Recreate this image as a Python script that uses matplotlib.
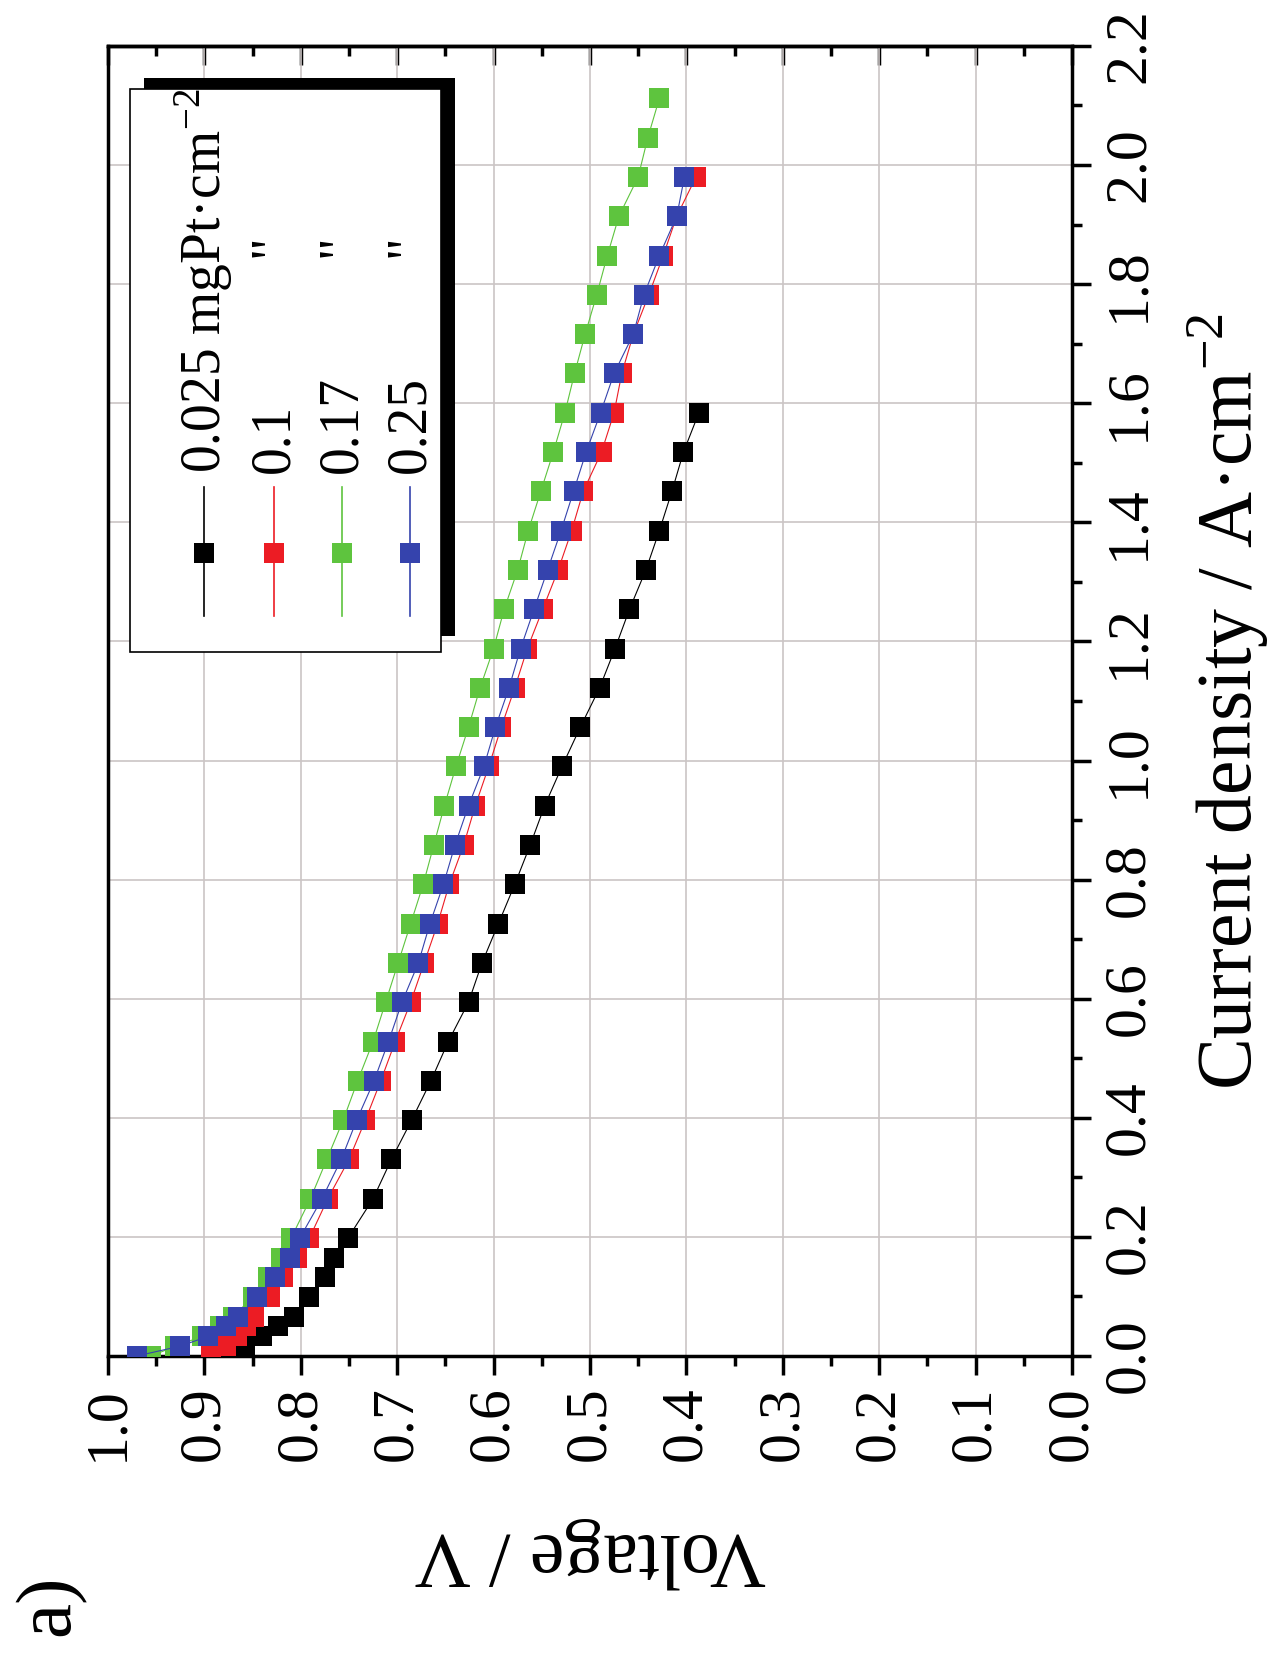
import numpy as np
import matplotlib
matplotlib.use("Agg")
import matplotlib.pyplot as plt
from matplotlib.ticker import MultipleLocator, FormatStrFormatter
from matplotlib.patches import Rectangle

plt.rcParams['font.family'] = ['Liberation Serif', 'DejaVu Serif']
plt.rcParams['mathtext.fontset'] = 'stix'

# current density steps (A/cm2), shared by all loadings
current = [0.0, 0.0165, 0.033, 0.0495, 0.066, 0.099, 0.132, 0.165, 0.198,
           0.264, 0.33, 0.396, 0.462, 0.528, 0.594, 0.66, 0.726, 0.792, 0.858,
           0.924, 0.99, 1.056, 1.122, 1.188, 1.254, 1.32, 1.386, 1.452, 1.518,
           1.584, 1.65, 1.716, 1.782, 1.848, 1.914, 1.98, 2.046, 2.112]

# cell voltage (V) per Pt loading
v_0025 = [0.875, 0.858, 0.840, 0.824, 0.807, 0.791, 0.775, 0.766, 0.751,
          0.725, 0.706, 0.685, 0.665, 0.647, 0.626, 0.612, 0.595, 0.578, 0.562,
          0.547, 0.529, 0.510, 0.490, 0.474, 0.459, 0.442, 0.428, 0.415, 0.403,
          0.387]
v_01 = [0.893, 0.878, 0.866, 0.857, 0.849, 0.832, 0.818, 0.804, 0.791,
        0.772, 0.750, 0.733, 0.717, 0.702, 0.686, 0.672, 0.658, 0.646, 0.631,
        0.619, 0.605, 0.592, 0.578, 0.565, 0.549, 0.533, 0.519, 0.507, 0.488,
        0.475, 0.467, 0.455, 0.439, 0.424, 0.410, 0.390]
v_017 = [0.955, 0.930, 0.902, 0.884, 0.870, 0.850, 0.834, 0.821, 0.810,
         0.790, 0.773, 0.756, 0.741, 0.725, 0.712, 0.699, 0.686, 0.673, 0.662,
         0.651, 0.639, 0.626, 0.614, 0.600, 0.589, 0.575, 0.564, 0.551, 0.538,
         0.526, 0.516, 0.505, 0.493, 0.482, 0.470, 0.450, 0.440, 0.428]
v_025 = [0.970, 0.925, 0.896, 0.878, 0.865, 0.845, 0.827, 0.811, 0.801,
         0.778, 0.758, 0.742, 0.724, 0.709, 0.695, 0.678, 0.666, 0.652, 0.640,
         0.626, 0.610, 0.598, 0.584, 0.572, 0.558, 0.544, 0.530, 0.517, 0.504,
         0.489, 0.475, 0.455, 0.444, 0.428, 0.410, 0.402]

labels = ['0.025 mgPt·cm$^{\\mathregular{-2}}$', '0.1', '0.17', '0.25']
colors = ['#000000', '#ec1c24', '#5ec43e', '#3543ad']
series = [v_0025, v_01, v_017, v_025]

fig = plt.figure(figsize=(12.73, 16.53), dpi=100)
ax = fig.add_axes([0.0848, 0.1797, 0.7573, 0.7925])

# figure is laid out turned on its side: voltage runs right-to-left,
# current density runs bottom-to-top
for i, (v, c) in enumerate(zip(series, colors)):
    ax.plot(v, current[:len(v)], color=c, lw=0.8, marker='s', ms=14.5,
            mew=0, zorder=3 + i)

ax.set_xlim(1.0, 0.0)
ax.set_ylim(0.0, 2.2)
ax.xaxis.set_major_locator(MultipleLocator(0.1))
ax.xaxis.set_minor_locator(MultipleLocator(0.05))
ax.yaxis.set_major_locator(MultipleLocator(0.2))
ax.yaxis.set_minor_locator(MultipleLocator(0.1))
ax.xaxis.set_major_formatter(FormatStrFormatter('%.1f'))
ax.yaxis.set_major_formatter(FormatStrFormatter('%.1f'))
ax.yaxis.tick_right()

ax.grid(which='major', color='#cbc5c5', lw=1.2)
ax.set_axisbelow(True)

ax.tick_params(which='major', direction='out', length=14, width=2.5,
               labelsize=43, pad=8)
ax.tick_params(which='minor', direction='out', length=7, width=2.5)
ax.tick_params(axis='x', labelrotation=90)
ax.tick_params(axis='y', labelrotation=90, left=False, which='both')
for t in ax.get_yticklabels():
    t.set_va('center')
for s in ax.spines.values():
    s.set_linewidth(2.5)

# inward ticks along the top edge
top = ax.secondary_xaxis('top')
top.xaxis.set_major_locator(MultipleLocator(0.1))
top.xaxis.set_minor_locator(MultipleLocator(0.05))
top.tick_params(which='major', direction='in', length=14, width=2.5,
                labeltop=False)
top.tick_params(which='minor', direction='in', length=7, width=2.5)
top.spines['top'].set_linewidth(2.5)

fig.text(590 / 1273, 1 - 1553 / 1653, 'Voltage / V', rotation=180,
         ha='center', va='center', fontsize=56)
fig.text(1228 / 1273, 1 - 701 / 1653,
         'Current density / A·cm$^{\\mathregular{-2}}$', rotation=90,
         ha='center', va='center', fontsize=56)
fig.text(50 / 1273, 1 - 1605 / 1653, 'a)', rotation=90,
         ha='center', va='center', fontsize=57)

# legend box with heavy drop shadow
ax.add_patch(Rectangle((0.0373, 0.5496), 0.3227, 0.4260, transform=ax.transAxes,
                       facecolor='black', edgecolor='none', zorder=10))
ax.add_patch(Rectangle((0.0228, 0.5374), 0.3226, 0.4298, transform=ax.transAxes,
                       facecolor='white', edgecolor='black', lw=1.2, zorder=11))
col_x = [0.0996, 0.1722, 0.2427, 0.3133]
for i, (cx, c, lab) in enumerate(zip(col_x, colors, labels)):
    ax.plot([cx, cx], [0.5649, 0.6634], color=c, lw=1.2,
            transform=ax.transAxes, zorder=12)
    ax.plot([cx], [0.613], 's', color=c, ms=14.5, mew=0,
            transform=ax.transAxes, zorder=13, clip_on=False)
    ax.text(cx, 0.674, lab, rotation=90, rotation_mode='anchor', ha='left',
            va='center', fontsize=40, transform=ax.transAxes, zorder=13)
    if i > 0:
        ax.text(cx, 0.839, '"', rotation=90, rotation_mode='anchor',
                ha='left', va='center', fontsize=40,
                transform=ax.transAxes, zorder=13)

fig.savefig('out.png', dpi=100)
